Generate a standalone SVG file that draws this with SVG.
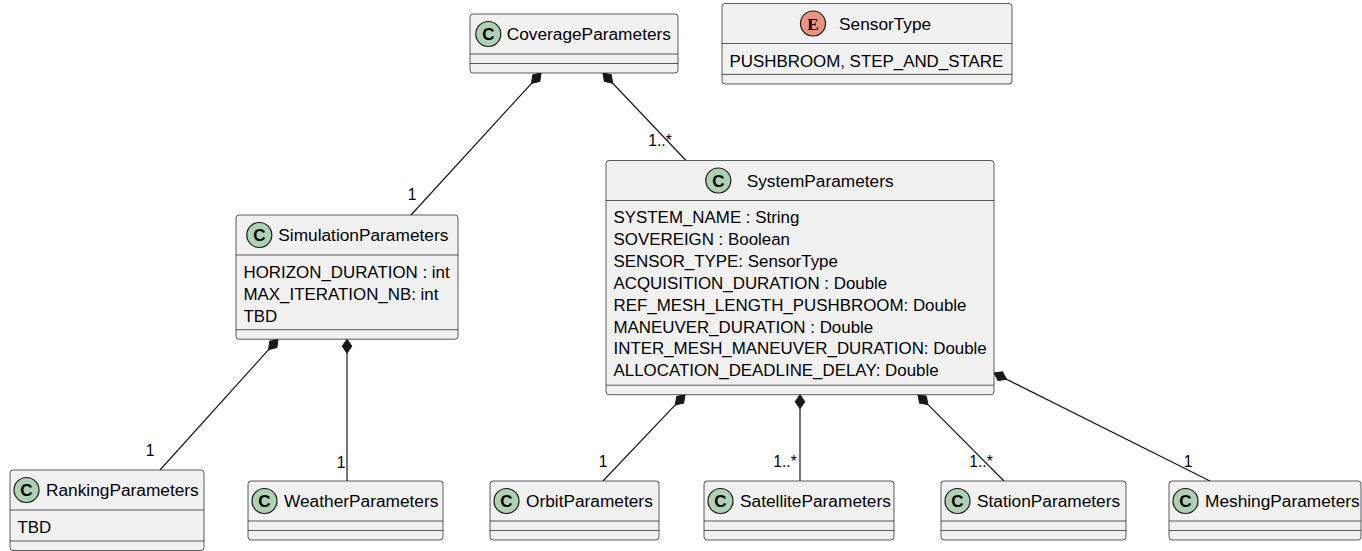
<svg xmlns="http://www.w3.org/2000/svg" width="1362" height="551" viewBox="0 0 1362 551">
  <style>
    .box { fill: #F1F1F1; stroke: #181818; stroke-width: 0.7; }
    .sep { stroke: #181818; stroke-width: 0.7; }
    .title { font-family: "Liberation Sans", Arial, sans-serif; font-size: 17.3px; fill: #000; }
    .attr { font-family: "Liberation Sans", Arial, sans-serif; font-size: 16.9px; fill: #000; }
    .cls { fill: #ADD1B2; stroke: #181818; stroke-width: 1.2; }
    .enm { fill: #EB937F; stroke: #181818; stroke-width: 1.2; }
    .glyph { font-family: "Liberation Sans", Arial, sans-serif; font-weight: bold; font-size: 17px; fill: #000; text-anchor: middle; }
    .eglyph { font-family: "Liberation Serif", "Times New Roman", serif; font-weight: bold; font-size: 17px; fill: #000; text-anchor: middle; }
    .edge { stroke: #181818; stroke-width: 1.2; fill: none; marker-start: url(#comp); }
    .mult { font-family: "Liberation Sans", Arial, sans-serif; font-size: 15.6px; fill: #000; text-anchor: middle; }
  </style>
  <defs>
    <!-- filled diamond for composition, placed at the owning class -->
    <marker id="comp" markerUnits="userSpaceOnUse" markerWidth="16" markerHeight="12" viewBox="-1 -6 16 12" refX="0" refY="0" orient="auto">
      <path d="M0,0 L7,-4.8 L14,0 L7,4.8 Z" fill="#181818" stroke="#181818" stroke-width="1"/>
    </marker>
  </defs>

  <!-- connectors -->
  <g id="connectors">
    <line class="edge" x1="541" y1="73" x2="411" y2="215"/>
    <text class="mult" x="412" y="199.5">1</text>
    <line class="edge" x1="603" y1="73" x2="686" y2="160.5"/>
    <text class="mult" x="660" y="145.5">1..*</text>
    <line class="edge" x1="278" y1="339.2" x2="160" y2="470"/>
    <text class="mult" x="150" y="455.5">1</text>
    <line class="edge" x1="347" y1="339.2" x2="347" y2="481"/>
    <text class="mult" x="341" y="467.5">1</text>
    <line class="edge" x1="685" y1="394.7" x2="603" y2="481"/>
    <text class="mult" x="603" y="467">1</text>
    <line class="edge" x1="800" y1="394.7" x2="800" y2="481"/>
    <text class="mult" x="785" y="467">1..*</text>
    <line class="edge" x1="918" y1="394.7" x2="1004" y2="481"/>
    <text class="mult" x="981" y="467">1..*</text>
    <line class="edge" x1="994" y1="373" x2="1210" y2="481"/>
    <text class="mult" x="1188" y="467">1</text>
  </g>

  <!-- CoverageParameters -->
  <g id="CoverageParameters">
    <rect class="box" x="470" y="14" width="208" height="59" rx="3"/>
    <circle class="cls" cx="488.3" cy="34" r="12.5"/>
    <text class="glyph" x="488.3" y="40">C</text>
    <text class="title" x="506.7" y="40">CoverageParameters</text>
    <line class="sep" x1="470" y1="54" x2="678" y2="54"/>
    <line class="sep" x1="470" y1="63.5" x2="678" y2="63.5"/>
  </g>

  <!-- SensorType (enum) -->
  <g id="SensorType">
    <rect class="box" x="722" y="3.5" width="290" height="80.5" rx="3"/>
    <circle class="enm" cx="813" cy="23.5" r="12.5"/>
    <text class="eglyph" x="813" y="29.5">E</text>
    <text class="title" x="839" y="29.5">SensorType</text>
    <line class="sep" x1="722" y1="43.5" x2="1012" y2="43.5"/>
    <text class="attr" x="729.5" y="66.5">PUSHBROOM, STEP_AND_STARE</text>
    <line class="sep" x1="722" y1="74.4" x2="1012" y2="74.4"/>
  </g>

  <!-- SimulationParameters -->
  <g id="SimulationParameters">
    <rect class="box" x="236" y="215" width="222" height="124.2" rx="3"/>
    <circle class="cls" cx="259.3" cy="235" r="12.5"/>
    <text class="glyph" x="259.3" y="241">C</text>
    <text class="title" x="278.3" y="241">SimulationParameters</text>
    <line class="sep" x1="236" y1="255" x2="458" y2="255"/>
    <text class="attr" x="243.5" y="278">HORIZON_DURATION : int</text>
    <text class="attr" x="243.5" y="299.9">MAX_ITERATION_NB: int</text>
    <text class="attr" x="243.5" y="321.8">TBD</text>
    <line class="sep" x1="236" y1="329.7" x2="458" y2="329.7"/>
  </g>

  <!-- SystemParameters -->
  <g id="SystemParameters">
    <rect class="box" x="606" y="160.5" width="388" height="234.2" rx="3"/>
    <circle class="cls" cx="718.3" cy="180.5" r="12.5"/>
    <text class="glyph" x="718.3" y="186.5">C</text>
    <text class="title" x="746.7" y="186.5">SystemParameters</text>
    <line class="sep" x1="606" y1="200.5" x2="994" y2="200.5"/>
    <text class="attr" x="613.5" y="223">SYSTEM_NAME : String</text>
    <text class="attr" x="613.5" y="244.9">SOVEREIGN : Boolean</text>
    <text class="attr" x="613.5" y="266.8">SENSOR_TYPE: SensorType</text>
    <text class="attr" x="613.5" y="288.7">ACQUISITION_DURATION : Double</text>
    <text class="attr" x="613.5" y="310.6">REF_MESH_LENGTH_PUSHBROOM: Double</text>
    <text class="attr" x="613.5" y="332.5">MANEUVER_DURATION : Double</text>
    <text class="attr" x="613.5" y="354.4">INTER_MESH_MANEUVER_DURATION: Double</text>
    <text class="attr" x="613.5" y="376.3">ALLOCATION_DEADLINE_DELAY: Double</text>
    <line class="sep" x1="606" y1="385.2" x2="994" y2="385.2"/>
  </g>

  <!-- RankingParameters -->
  <g id="RankingParameters">
    <rect class="box" x="10" y="470" width="194" height="80.5" rx="3"/>
    <circle class="cls" cx="26.5" cy="490" r="12.5"/>
    <text class="glyph" x="26.5" y="496">C</text>
    <text class="title" x="46" y="496">RankingParameters</text>
    <line class="sep" x1="10" y1="510" x2="204" y2="510"/>
    <text class="attr" x="17.5" y="533">TBD</text>
    <line class="sep" x1="10" y1="541" x2="204" y2="541"/>
  </g>

  <!-- WeatherParameters -->
  <g id="WeatherParameters">
    <rect class="box" x="248" y="481" width="195" height="59" rx="3"/>
    <circle class="cls" cx="264.5" cy="501" r="12.5"/>
    <text class="glyph" x="264.5" y="507">C</text>
    <text class="title" x="284" y="507">WeatherParameters</text>
    <line class="sep" x1="248" y1="521" x2="443" y2="521"/>
    <line class="sep" x1="248" y1="530.5" x2="443" y2="530.5"/>
  </g>

  <!-- OrbitParameters -->
  <g id="OrbitParameters">
    <rect class="box" x="490" y="481" width="169" height="59" rx="3"/>
    <circle class="cls" cx="506.5" cy="501" r="12.5"/>
    <text class="glyph" x="506.5" y="507">C</text>
    <text class="title" x="526" y="507">OrbitParameters</text>
    <line class="sep" x1="490" y1="521" x2="659" y2="521"/>
    <line class="sep" x1="490" y1="530.5" x2="659" y2="530.5"/>
  </g>

  <!-- SatelliteParameters -->
  <g id="SatelliteParameters">
    <rect class="box" x="704" y="481" width="190" height="59" rx="3"/>
    <circle class="cls" cx="720.5" cy="501" r="12.5"/>
    <text class="glyph" x="720.5" y="507">C</text>
    <text class="title" x="740" y="507">SatelliteParameters</text>
    <line class="sep" x1="704" y1="521" x2="894" y2="521"/>
    <line class="sep" x1="704" y1="530.5" x2="894" y2="530.5"/>
  </g>

  <!-- StationParameters -->
  <g id="StationParameters">
    <rect class="box" x="941" y="481" width="185" height="59" rx="3"/>
    <circle class="cls" cx="957.5" cy="501" r="12.5"/>
    <text class="glyph" x="957.5" y="507">C</text>
    <text class="title" x="977" y="507">StationParameters</text>
    <line class="sep" x1="941" y1="521" x2="1126" y2="521"/>
    <line class="sep" x1="941" y1="530.5" x2="1126" y2="530.5"/>
  </g>

  <!-- MeshingParameters -->
  <g id="MeshingParameters">
    <rect class="box" x="1169" y="481" width="192" height="59" rx="3"/>
    <circle class="cls" cx="1185.5" cy="501" r="12.5"/>
    <text class="glyph" x="1185.5" y="507">C</text>
    <text class="title" x="1205" y="507">MeshingParameters</text>
    <line class="sep" x1="1169" y1="521" x2="1361" y2="521"/>
    <line class="sep" x1="1169" y1="530.5" x2="1361" y2="530.5"/>
  </g>
</svg>
